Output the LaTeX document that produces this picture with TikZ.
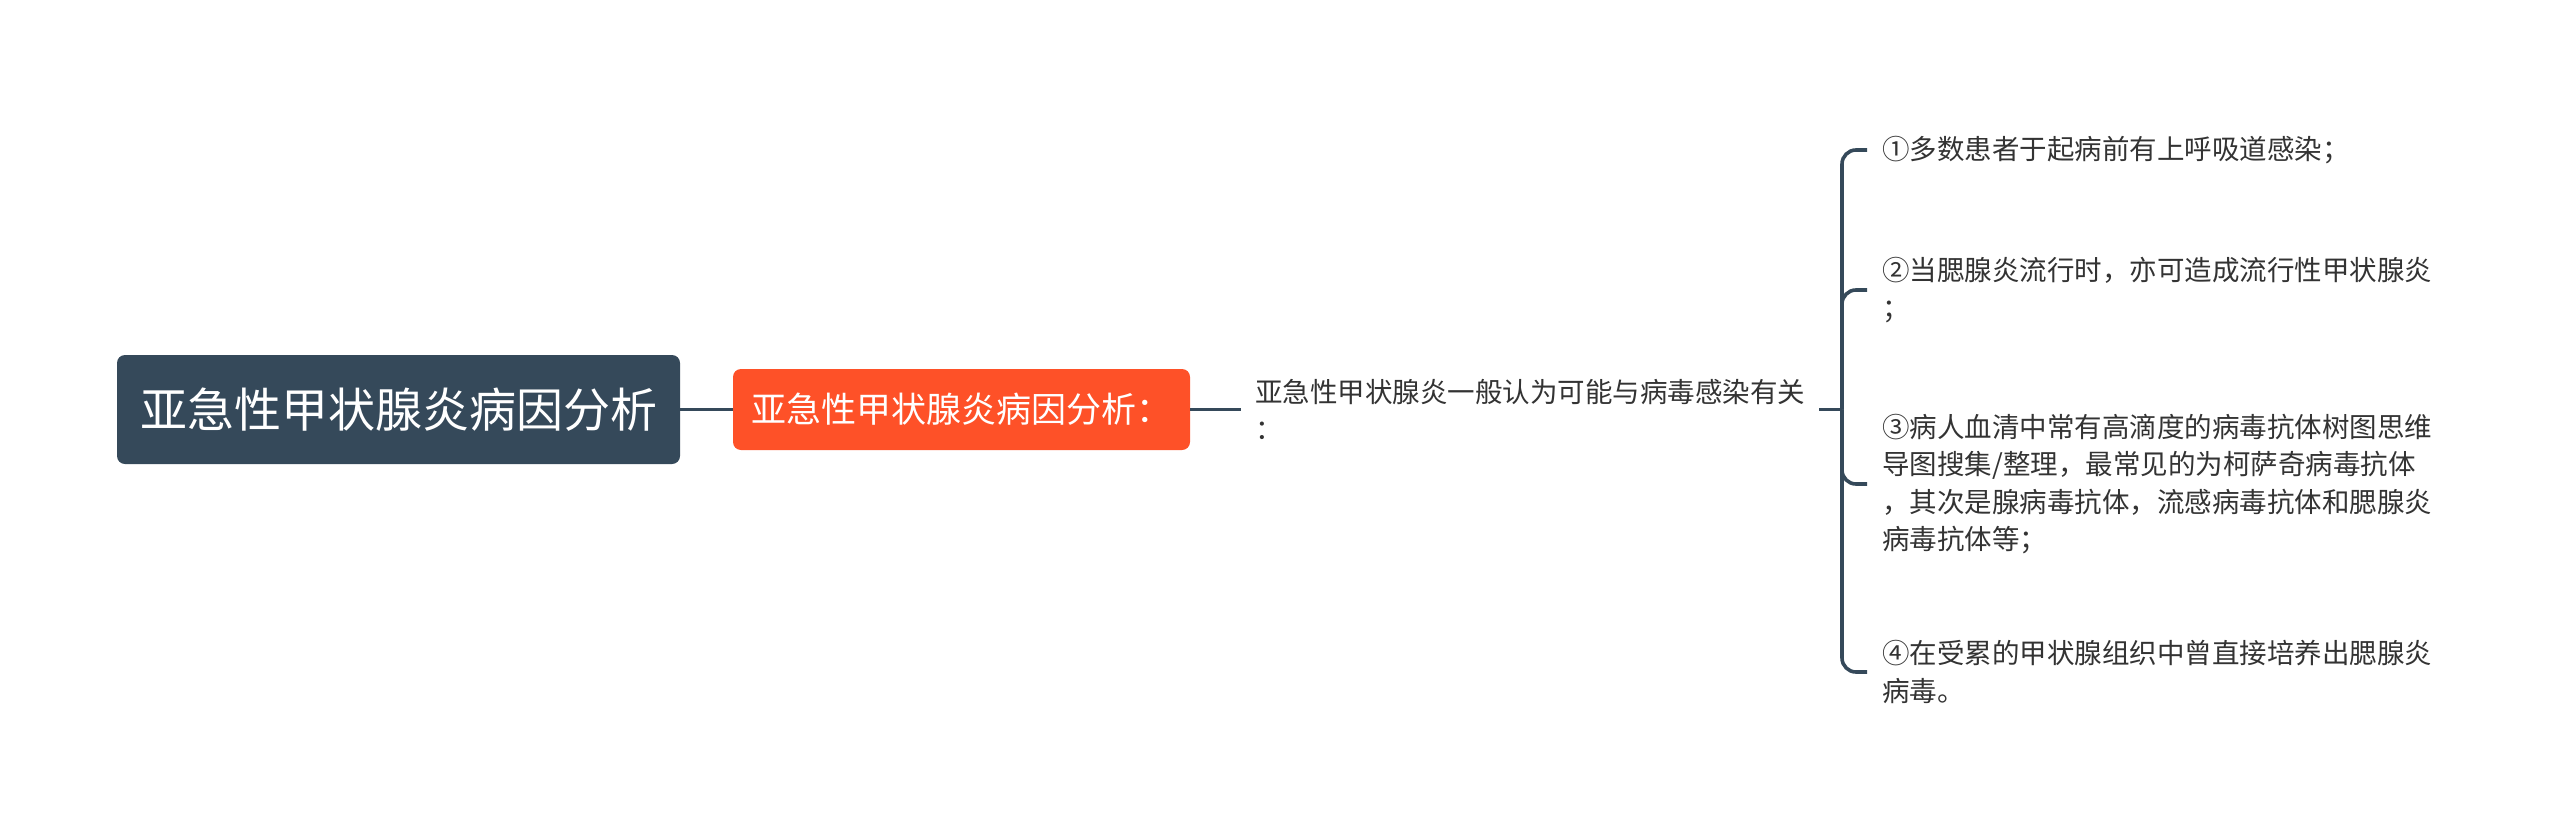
\documentclass[tikz,border=0pt]{standalone}
\usepackage{fontspec}
\setmainfont{Noto Sans CJK SC}
\definecolor{slate}{HTML}{35495A}
\definecolor{orangebg}{HTML}{FE5128}
\definecolor{txt}{HTML}{333333}
\tikzset{
  rootbox/.style={fill=slate, draw=none, rounded corners=8pt, text=white,
    minimum width=563pt, minimum height=109pt, inner sep=0pt,
    font=\fontsize{47}{56}\selectfont},
  mainbox/.style={fill=orangebg, draw=none, rounded corners=8pt, text=white,
    minimum width=457pt, minimum height=81pt, inner sep=0pt,
    font=\fontsize{35}{42}\selectfont},
  plain/.style={text=txt, align=left, inner xsep=14pt, inner ysep=2pt,
    font=\fontsize{27.5}{37.5}\selectfont},
  leaf/.style={text=txt, align=left, inner xsep=15pt, inner ysep=2pt, anchor=west,
    font=\fontsize{27.5}{37.5}\selectfont},
  conn/.style={draw=slate, line width=3.6pt},
  branch/.style={draw=slate, line width=3.6pt, rounded corners=14pt},
}
\begin{document}
\begin{tikzpicture}[x=1pt, y=-1pt]
\useasboundingbox (0,0) rectangle (2560,838);
\node[rootbox] (root) at (398.5,409.5) {亚急性甲状腺炎病因分析};
\node[mainbox] (main) at (961.5,409.5) {亚急性甲状腺炎病因分析：};
\node[plain, anchor=west] (mid) at (1241,409.5) {亚急性甲状腺炎一般认为可能与病毒感染有关\\：};
\coordinate (J) at (1842,409.5);
\node[leaf] (c1) at (1867,150) {①多数患者于起病前有上呼吸道感染；};
\node[leaf] (c2) at (1867,290) {②当腮腺炎流行时，亦可造成流行性甲状腺炎\\；};
\node[leaf] (c3) at (1867,484) {③病人血清中常有高滴度的病毒抗体树图思维\\导图搜集/整理，最常见的为柯萨奇病毒抗体\\，其次是腺病毒抗体，流感病毒抗体和腮腺炎\\病毒抗体等；};
\node[leaf] (c4) at (1867,672) {④在受累的甲状腺组织中曾直接培养出腮腺炎\\病毒。};
\draw[conn] (root.east) -- (main.west);
\draw[conn] (main.east) -- (mid.west);
\draw[conn] (mid.east) -- (J);
\foreach \c in {c1,c2,c3,c4} {
  \draw[branch] (J) |- (\c.west);
}
\end{tikzpicture}
\end{document}
